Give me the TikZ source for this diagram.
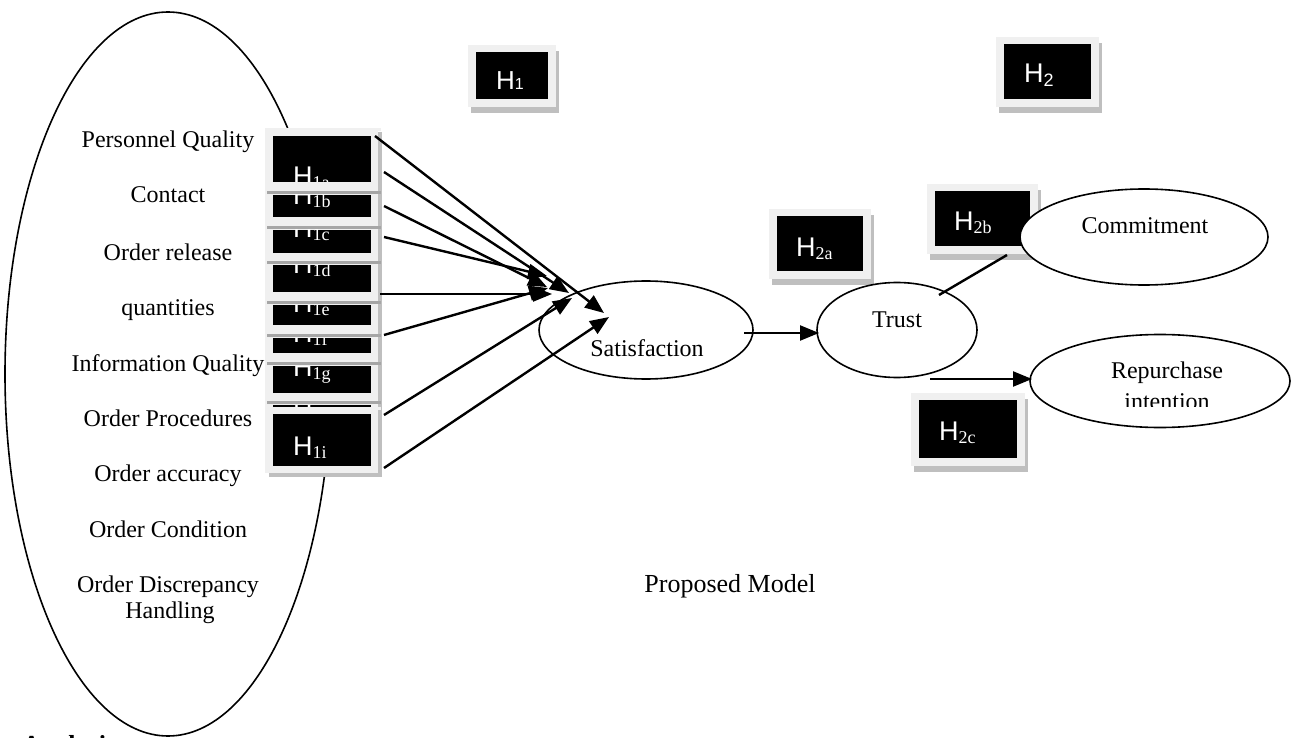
\documentclass[tikz,border=0pt]{standalone}
\usepackage{fontspec}
\setmainfont{Liberation Serif}
\newfontfamily\hsansf{Liberation Sans}
\usetikzlibrary{arrows.meta,shapes.geometric}
\newcommand\hsubs[1]{{\hsansf\fontsize{27}{30}\selectfont H}\raisebox{-3pt}{\fontsize{18}{20}\selectfont #1}}
\newcommand\stackbox[8]{%
  \fill[black!25] (269,#3+4) rectangle (382,#6+4);
  \fill[black!6] (265,#3) rectangle (378,#6);
  \fill[#8] (267,#3) rectangle (381,#3+3);
  \fill[black] (273,#4) rectangle (371,#5);
  \begin{scope}
    \clip (273,#4) rectangle (371,#5);
    \node[hlab] (#1) at (293,#7) {\hsubs{#2}};
  \end{scope}}
\newcommand\topbox[8]{%
  \fill[black!25] (#2-5,#3-1) rectangle (#4+11,#5+14);
  \fill[black!6] (#2-8,#3-7) rectangle (#4+8,#5+8);
  \fill[black] (#2,#3) rectangle (#4,#5);
  \node[hlab] (#1) at (#6,#7) {#8};}
\begin{document}
\begin{tikzpicture}[x=1pt,y=-1pt,
  conn/.style={line width=2.4pt,-{Triangle[length=19pt,width=15pt]}},
  plainline/.style={line width=2.4pt},
  ell/.style={draw,ellipse,line width=1.6pt,fill=white,inner sep=0pt},
  lbl/.style={font=\fontsize{24}{28}\selectfont,inner sep=0pt,anchor=base},
  hlab/.style={inner sep=0pt,anchor=base west,text=white}]
\useasboundingbox (0,0) rectangle (1304,738);

% big ellipse of dimensions
\node[ell,fill=none,minimum width=326pt,minimum height=724pt] (dims) at (168,374) {};
\node[lbl] (pq) at (168,148) {Personnel Quality};
\node[lbl] (ct) at (168,203) {Contact};
\node[lbl] (orl) at (168,260) {Order release};
\node[lbl] (qt) at (168,315) {quantities};
\node[lbl] (iq) at (168,371) {Information Quality};
\node[lbl] (op) at (168,426) {Order Procedures};
\node[lbl] (oa) at (168,481) {Order accuracy};
\node[lbl] (oc) at (168,537) {Order Condition};
\node[lbl] (od) at (168,592) {Order Discrepancy};
\node[lbl] (oh) at (170,618) {Handling};

% stacked hypothesis boxes
\stackbox{h1a}{1a}{128}{136}{182}{193}{186}{black!6}
\stackbox{h1b}{1b}{191}{195}{217}{228}{205}{black!35}
\stackbox{h1c}{1c}{226}{230}{253}{263}{237}{black!35}
\stackbox{h1d}{1d}{261}{265}{292}{303}{273}{black!35}
\stackbox{h1e}{1e}{301}{305}{325}{336}{312}{black!35}
\stackbox{h1f}{1f}{334}{338}{353}{364}{342}{black!35}
\stackbox{h1g}{1g}{362}{366}{393}{403}{376}{black!35}
\stackbox{h1h}{1h}{401}{405}{430}{440}{421}{black!35}
\stackbox{h1i}{1i}{407}{414}{466}{473}{455}{black!6}

% top boxes
\topbox{h1}{476}{52}{548}{99}{496}{90}{{\hsansf\fontsize{26}{30}\selectfont H}{\hsansf\fontsize{16}{18}\selectfont 1}}
\topbox{h2}{1004}{44}{1091}{99}{1024}{83}{{\hsansf\fontsize{27}{30}\selectfont H}\raisebox{-4pt}{\hsansf\fontsize{18}{20}\selectfont 2}}
\topbox{h2a}{777}{216}{863}{271}{796}{256}{\hsubs{2a}}
\topbox{h2b}{935}{191}{1030}{246}{954}{231}{\hsubs{2b}}
\topbox{h2c}{919}{400}{1017}{458}{939}{440}{\hsubs{2c}}

% construct ellipses
\node[ell,minimum width=214pt,minimum height=98pt] (sat) at (646,330) {};
\node[lbl] (satl) at (647,356) {Satisfaction};
\node[ell,minimum width=160pt,minimum height=95pt] (trust) at (897,330) {};
\node[lbl] (trustl) at (897,327) {Trust};
\node[ell,minimum width=248pt,minimum height=96pt] (commit) at (1144,237) {};
\node[lbl] (commitl) at (1145,234) {Commitment};
\node[ell,minimum width=260pt,minimum height=93pt] (rep) at (1160,381) {};
\node[lbl] (repl) at (1167,378) {Repurchase};
\begin{scope}
  \clip (1040,385) rectangle (1290,406);
  \node[lbl] (intl) at (1167,409) {intention};
\end{scope}

% connectors from H1 boxes to satisfaction
\coordinate (sa) at (375,136); \coordinate (ta) at (604,313);
\coordinate (sb) at (384,172); \coordinate (tb) at (569,293);
\coordinate (sc) at (384,206); \coordinate (tc) at (547,287);
\coordinate (sd) at (384,237); \coordinate (td) at (547,276);
\coordinate (se) at (380,294); \coordinate (te) at (552,294);
\coordinate (sf) at (384,335); \coordinate (tf) at (548,288);
\coordinate (sg) at (384,415); \coordinate (tg) at (572,298);
\coordinate (sh) at (384,468); \coordinate (th) at (609,317);
\foreach \k in {a,b,c,d,e,f,g,h} {\draw[conn] (s\k) -- (t\k);}

\coordinate (st) at (744,333);
\coordinate (tt) at (819,333);
\draw[conn] (st) -- (tt);
\coordinate (tc1) at (939,295);
\coordinate (tc2) at (1007,255);
\draw[plainline] (tc1) -- (tc2);
\coordinate (tr1) at (930,379);
\coordinate (tr2) at (1032,379);
\draw[conn] (tr1) -- (tr2);

\node[inner sep=0pt,anchor=base,font=\fontsize{26}{30}\selectfont] (pm) at (730,592) {Proposed Model};

\begin{scope}
  \clip (0,0) rectangle (1304,738);
  \node[inner sep=0pt,anchor=base west,font=\bfseries\fontsize{26}{30}\selectfont] (an) at (22,753) {Analysis};
\end{scope}
\end{tikzpicture}
\end{document}
